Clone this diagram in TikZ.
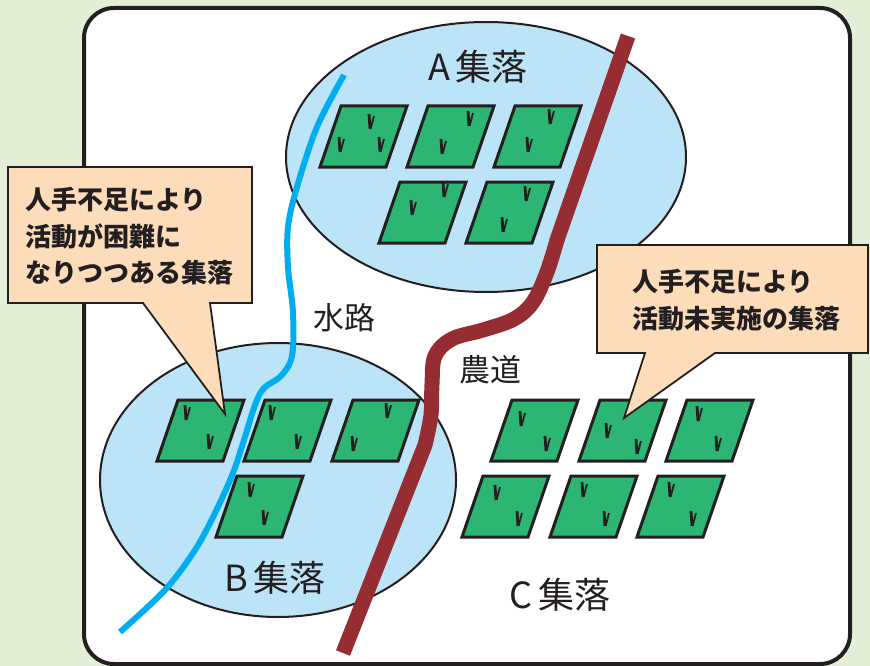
\documentclass[tikz,border=0pt]{standalone}
\usepackage{fontspec}
\setmainfont{Noto Sans CJK JP}
\begin{document}
\definecolor{bgcol}{RGB}{226,239,214}
\definecolor{ink}{RGB}{35,31,32}
\definecolor{village}{RGB}{188,228,248}
\definecolor{paddy}{RGB}{45,181,115}
\definecolor{water}{RGB}{0,173,238}
\definecolor{farmroad}{RGB}{150,45,51}
\definecolor{note}{RGB}{253,220,185}
\tikzset{
  frame/.style={draw=ink, line width=4pt, fill=white, rounded corners=30pt},
  villagearea/.style={draw=ink, line width=2pt, fill=village},
  paddyfield/.style={draw=ink, line width=3pt, fill=paddy, line join=miter},
  grassstem/.style={draw=ink, line width=2.8pt},
  grassleaf/.style={draw=ink, line width=1.8pt},
  waterway/.style={draw=water, line width=6pt},
  roadway/.style={draw=farmroad, line width=15pt, line join=round},
  callout/.style={draw=ink, line width=1.8pt, fill=note, line join=miter},
  bigname/.style={text=ink, font=\fontsize{36}{36}\selectfont, inner sep=0pt},
  midname/.style={text=ink, font=\fontsize{31}{31}\selectfont, inner sep=0pt},
  notetext/.style={text=ink, font=\fontsize{26}{36.5}\selectfont\bfseries, align=left, inner sep=0pt, anchor=west},
}
% one paddy field, given its top-left corner
\newcommand\paddyat[2]{\path[paddyfield] (#1,#2) -- ++(66,0) -- ++(-21,61) -- ++(-66,0) -- cycle;}
% one grass tuft, given the top of its stem
\newcommand\tuftat[2]{%
  \path[grassstem] (#1,#2) -- ++(1,15);
  \path[grassleaf] (#1+1.5,#2+15) -- ++(3.5,-13);}
\begin{tikzpicture}[x=1pt,y=-1pt]
\useasboundingbox (0,0) rectangle (870,666);
\fill[bgcol] (0,0) rectangle (870,666);
\path[frame] (84,8) rectangle (850,664);

% settlement areas
\path[villagearea] (486,157) ellipse [x radius=200, y radius=135];
\path[villagearea] (278,480) ellipse [x radius=178, y radius=137];

% paddy fields, settlement A
\paddyat{341}{106}\paddyat{428}{106}\paddyat{515}{106}
\paddyat{400}{182}\paddyat{487}{182}
% paddy fields, settlement B
\paddyat{178}{400}\paddyat{265}{400}\paddyat{353}{400}
\paddyat{237}{476}
% paddy fields, settlement C
\paddyat{512}{400}\paddyat{600}{400}\paddyat{687}{400}
\paddyat{483}{476}\paddyat{571}{476}\paddyat{658}{476}

% grass tufts
\tuftat{369}{114}\tuftat{339}{137}\tuftat{379}{137}
\tuftat{468}{111}\tuftat{441}{139}
\tuftat{549}{109}\tuftat{527}{137}
\tuftat{443}{182}\tuftat{411}{200}
\tuftat{525}{186}\tuftat{502}{217}
\tuftat{185}{405}\tuftat{208}{434}
\tuftat{270}{405}\tuftat{296}{434}
\tuftat{386}{403}\tuftat{352}{436}
\tuftat{249}{482}\tuftat{263}{510}
\tuftat{520}{411}\tuftat{545}{436}
\tuftat{606}{423}\tuftat{636}{439}
\tuftat{697}{406}\tuftat{716}{436}
\tuftat{495}{485}\tuftat{517}{511}
\tuftat{582}{482}\tuftat{604}{511}
\tuftat{669}{482}\tuftat{691}{511}

% waterway
\path[waterway] plot[smooth, tension=0.55] coordinates {
  (344,75) (317,127) (297,187) (288,227) (288,267) (293,313) (292,356)
  (281,376) (264,388) (255,405) (244,440) (233,473) (215,513) (195,550)
  (165,590) (120,632)};

% farm road
\path[roadway] (628,36) -- (557,240) -- plot[smooth, tension=0.6] coordinates {
  (557,240) (547,272) (533,302) (514,319) (483,330) (452,339) (435,356)
  (432,384) (431,415) (425,445)} -- (343,653);

% names
\node[bigname] (nameA) at (478,67) {A\kern6pt 集落};
\node[bigname] (nameB) at (275,578) {B\kern6pt 集落};
\node[bigname] (nameC) at (560,595) {C\kern6pt 集落};
\node[midname] (waterlabel) at (344,318) {水路};
\node[midname] (roadlabel) at (490,370) {農道};

% callouts
\path[callout] (8,167) -- (252,167) -- (252,303) -- (210,303) -- (225,414)
  -- (143,303) -- (8,303) -- cycle;
\node[notetext] (noteB) at (25,236.5) {人手不足により\\活動が困難に\\なりつつある集落};
\path[callout] (597,245) -- (868,245) -- (868,353) -- (715,353) -- (624,418)
  -- (645,353) -- (597,353) -- cycle;
\node[notetext] (noteC) at (632,300) {人手不足により\\活動未実施の集落};
\end{tikzpicture}
\end{document}
